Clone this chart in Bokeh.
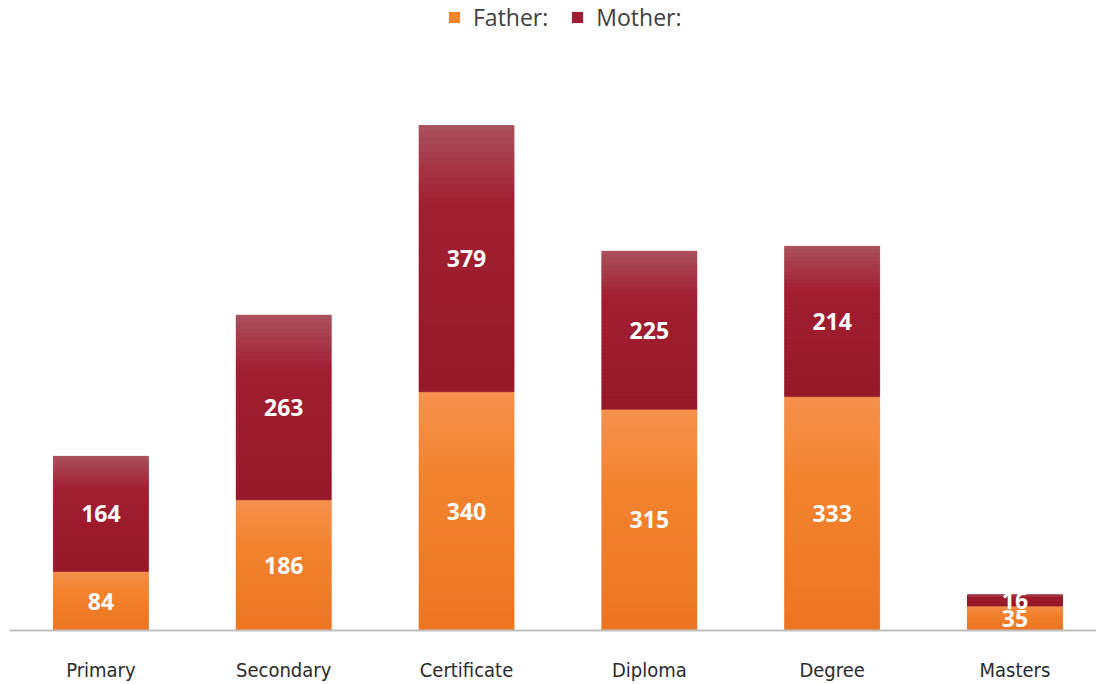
import numpy as np
from bokeh.plotting import figure
from bokeh.models import Range1d, ColumnDataSource, Legend, LegendItem, FixedTicker
from bokeh.core.properties import value
from bokeh.embed import file_html
from bokeh.resources import INLINE

categories = ["Primary", "Secondary", "Certificate", "Diploma", "Degree", "Masters"]
father = [84, 186, 340, 315, 333, 35]
mother = [164, 263, 379, 225, 214, 16]

x = np.arange(len(categories))
father_arr = np.array(father, dtype=float)
mother_arr = np.array(mother, dtype=float)

p = figure(width=1096, height=684, output_backend="svg", toolbar_location=None,
           x_range=Range1d(-0.5, 5.446), y_range=Range1d(0, 897),
           min_border_left=9, min_border_right=0, min_border_top=0, min_border_bottom=54)
p.outline_line_color = None
p.grid.visible = False
p.yaxis.visible = False
p.background_fill_color = "white"

BW = 0.52

def lerp_stops(stops, t):
    for i in range(len(stops) - 1):
        p0, c0 = stops[i]
        p1, c1 = stops[i + 1]
        if p0 <= t <= p1:
            f = (t - p0) / (p1 - p0) if p1 > p0 else 0
            c = [int(round(c0[k] + (c1[k] - c0[k]) * f)) for k in range(3)]
            return "#%02x%02x%02x" % tuple(c)
    c = stops[-1][1]
    return "#%02x%02x%02x" % tuple(c)

father_stops = [(0.0, (245, 146, 78)), (0.35, (243, 131, 47)), (1.0, (236, 117, 35))]
mother_stops = [(0.0, (170, 82, 94)), (0.3, (162, 30, 49)), (1.0, (150, 26, 42))]

def gradient_bands(bottom, top, stops, n=40):
    xs, bs, ts, cs = [], [], [], []
    for i in range(len(bottom)):
        h = top[i] - bottom[i]
        for k in range(n):
            t_top = top[i] - h * k / n
            t_bot = top[i] - h * (k + 1) / n
            xs.append(x[i]); bs.append(t_bot); ts.append(t_top)
            cs.append(lerp_stops(stops, (k + 0.5) / n))
    return ColumnDataSource(dict(x=xs, bottom=bs, top=ts, color=cs))

r_f = p.vbar(x=x, bottom=0, top=father_arr, width=BW, fill_color="#f28330", line_color=None)
r_m = p.vbar(x=x, bottom=father_arr, top=father_arr + mother_arr, width=BW,
             fill_color="#a01e30", line_color=None)

src_f = gradient_bands(np.zeros(len(x)), father_arr, father_stops)
src_m = gradient_bands(father_arr, father_arr + mother_arr, mother_stops)
p.vbar(x="x", bottom="bottom", top="top", width=BW, fill_color="color", line_color="color",
       line_width=0.6, source=src_f)
p.vbar(x="x", bottom="bottom", top="top", width=BW, fill_color="color", line_color="color",
       line_width=0.6, source=src_m)

lbl = ColumnDataSource(dict(
    x=np.concatenate([x, x]),
    y=np.concatenate([father_arr / 2, father_arr + mother_arr / 2]),
    t=[str(v) for v in father] + [str(v) for v in mother],
))
p.text(x="x", y="y", text="t", source=lbl, text_align="center", text_baseline="middle",
       text_color="white", text_font=value("Open Sans"), text_font_style="bold",
       text_font_size="23px")

p.xaxis.ticker = FixedTicker(ticks=list(x))
p.xaxis.major_label_overrides = {int(i): c for i, c in zip(x, categories)}
p.xaxis.major_tick_line_color = None
p.xaxis.minor_tick_line_color = None
p.xaxis.axis_line_color = "#bfbfbf"
p.xaxis.axis_line_width = 2
p.xaxis.major_label_standoff = 21
p.xaxis.major_label_text_font = "DejaVu Sans Condensed"
p.xaxis.major_label_text_font_size = "20px"
p.xaxis.major_label_text_color = "#2b2b2b"

legend = Legend(items=[LegendItem(label="Father:", renderers=[r_f]),
                       LegendItem(label="Mother:", renderers=[r_m])],
                orientation="horizontal", location=(438, 597),
                label_text_font="Open Sans", label_text_font_size="23px",
                label_text_color="#404040", glyph_width=14, glyph_height=14,
                label_standoff=12, spacing=22, padding=0, margin=0,
                border_line_color=None, background_fill_alpha=0)
p.add_layout(legend)

open("out.html", "w").write(file_html(p, INLINE))
